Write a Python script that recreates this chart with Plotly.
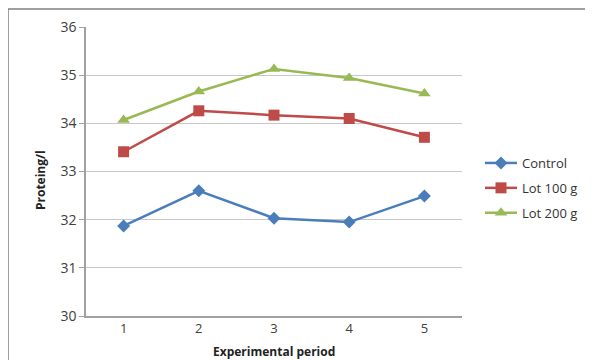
import plotly.graph_objects as go

periods = ["1", "2", "3", "4", "5"]
control = [31.87, 32.60, 32.03, 31.95, 32.49]
lot100 = [33.41, 34.26, 34.17, 34.10, 33.71]
lot200 = [34.07, 34.66, 35.13, 34.94, 34.62]
y_ticks = [30, 31, 32, 33, 34, 35, 36]

fig = go.Figure()
fig.add_trace(go.Scatter(x=periods, y=control, name="Control", mode="lines+markers",
                         legendgroup="a",
                         line=dict(color="#4a7ebb", width=2.5),
                         marker=dict(symbol="diamond", size=10, color="#4a7ebb")))
fig.add_trace(go.Scatter(x=periods, y=lot100, name="Lot 100 g", mode="lines+markers",
                         legendgroup="b",
                         line=dict(color="#be4b48", width=2.5),
                         marker=dict(symbol="square", size=11, color="#be4b48")))
fig.add_trace(go.Scatter(x=periods, y=lot200, name="Lot 200 g", mode="lines+markers",
                         legendgroup="c",
                         line=dict(color="#98b954", width=2.5),
                         marker=dict(symbol="triangle-up", size=11, color="#98b954")))

# page body has an 8px default margin; work in screen coords and subtract it
O = 8
W, H = 593, 360
L, T = 86 - O, 27 - O
pw, ph = 376, 289
R, B = W - L - pw, H - T - ph


def px(x):
    return (x - O - L) / pw


def py(y):
    return (T + ph - (y - O)) / ph


fig.update_layout(
    width=W, height=H,
    margin=dict(l=L, r=R, t=T, b=B, autoexpand=False),
    paper_bgcolor="white", plot_bgcolor="white",
    font=dict(family="Open Sans, Liberation Sans, sans-serif", color="#404040", size=12),
    showlegend=True,
    legend=dict(x=px(480), y=py(148), xanchor="left", yanchor="top",
                font=dict(size=13, color="#333"), tracegroupgap=5, itemwidth=32,
                bgcolor="rgba(0,0,0,0)"),
    xaxis=dict(type="category", range=[-0.5, 4.5], showgrid=False, automargin=False,
               showline=True, linecolor="#a0a0a0", linewidth=1.5,
               ticks="", tickfont=dict(size=13, color="#404040")),
    yaxis=dict(range=[30, 36], tickvals=y_ticks, showgrid=True, gridcolor="#c8c8c8",
               gridwidth=1, showline=True, linecolor="#a0a0a0", linewidth=1.5,
               ticks="outside", ticklen=5, tickcolor="#a0a0a0", automargin=False,
               tickfont=dict(size=14, color="#404040"), zeroline=False),
)

fig.add_annotation(text="<b>Experimental period</b>", xref="paper", yref="paper",
                   x=px(274), y=py(351), showarrow=False,
                   xanchor="center", yanchor="middle", font=dict(size=12, color="#222"))
fig.add_annotation(text="<b>Proteing/l</b>", xref="paper", yref="paper",
                   x=px(40), y=py(180), showarrow=False, textangle=-90,
                   xanchor="center", yanchor="middle", font=dict(size=12, color="#222"))

# outer chart border (top and left visible)
fig.add_shape(type="line", xref="paper", yref="paper",
              x0=px(8), x1=px(W + 10), y0=py(9), y1=py(9),
              line=dict(color="#808080", width=1.5))
fig.add_shape(type="line", xref="paper", yref="paper",
              x0=px(8), x1=px(8), y0=py(9), y1=py(H + 10),
              line=dict(color="#808080", width=1.5))

fig.write_html("out.html")
